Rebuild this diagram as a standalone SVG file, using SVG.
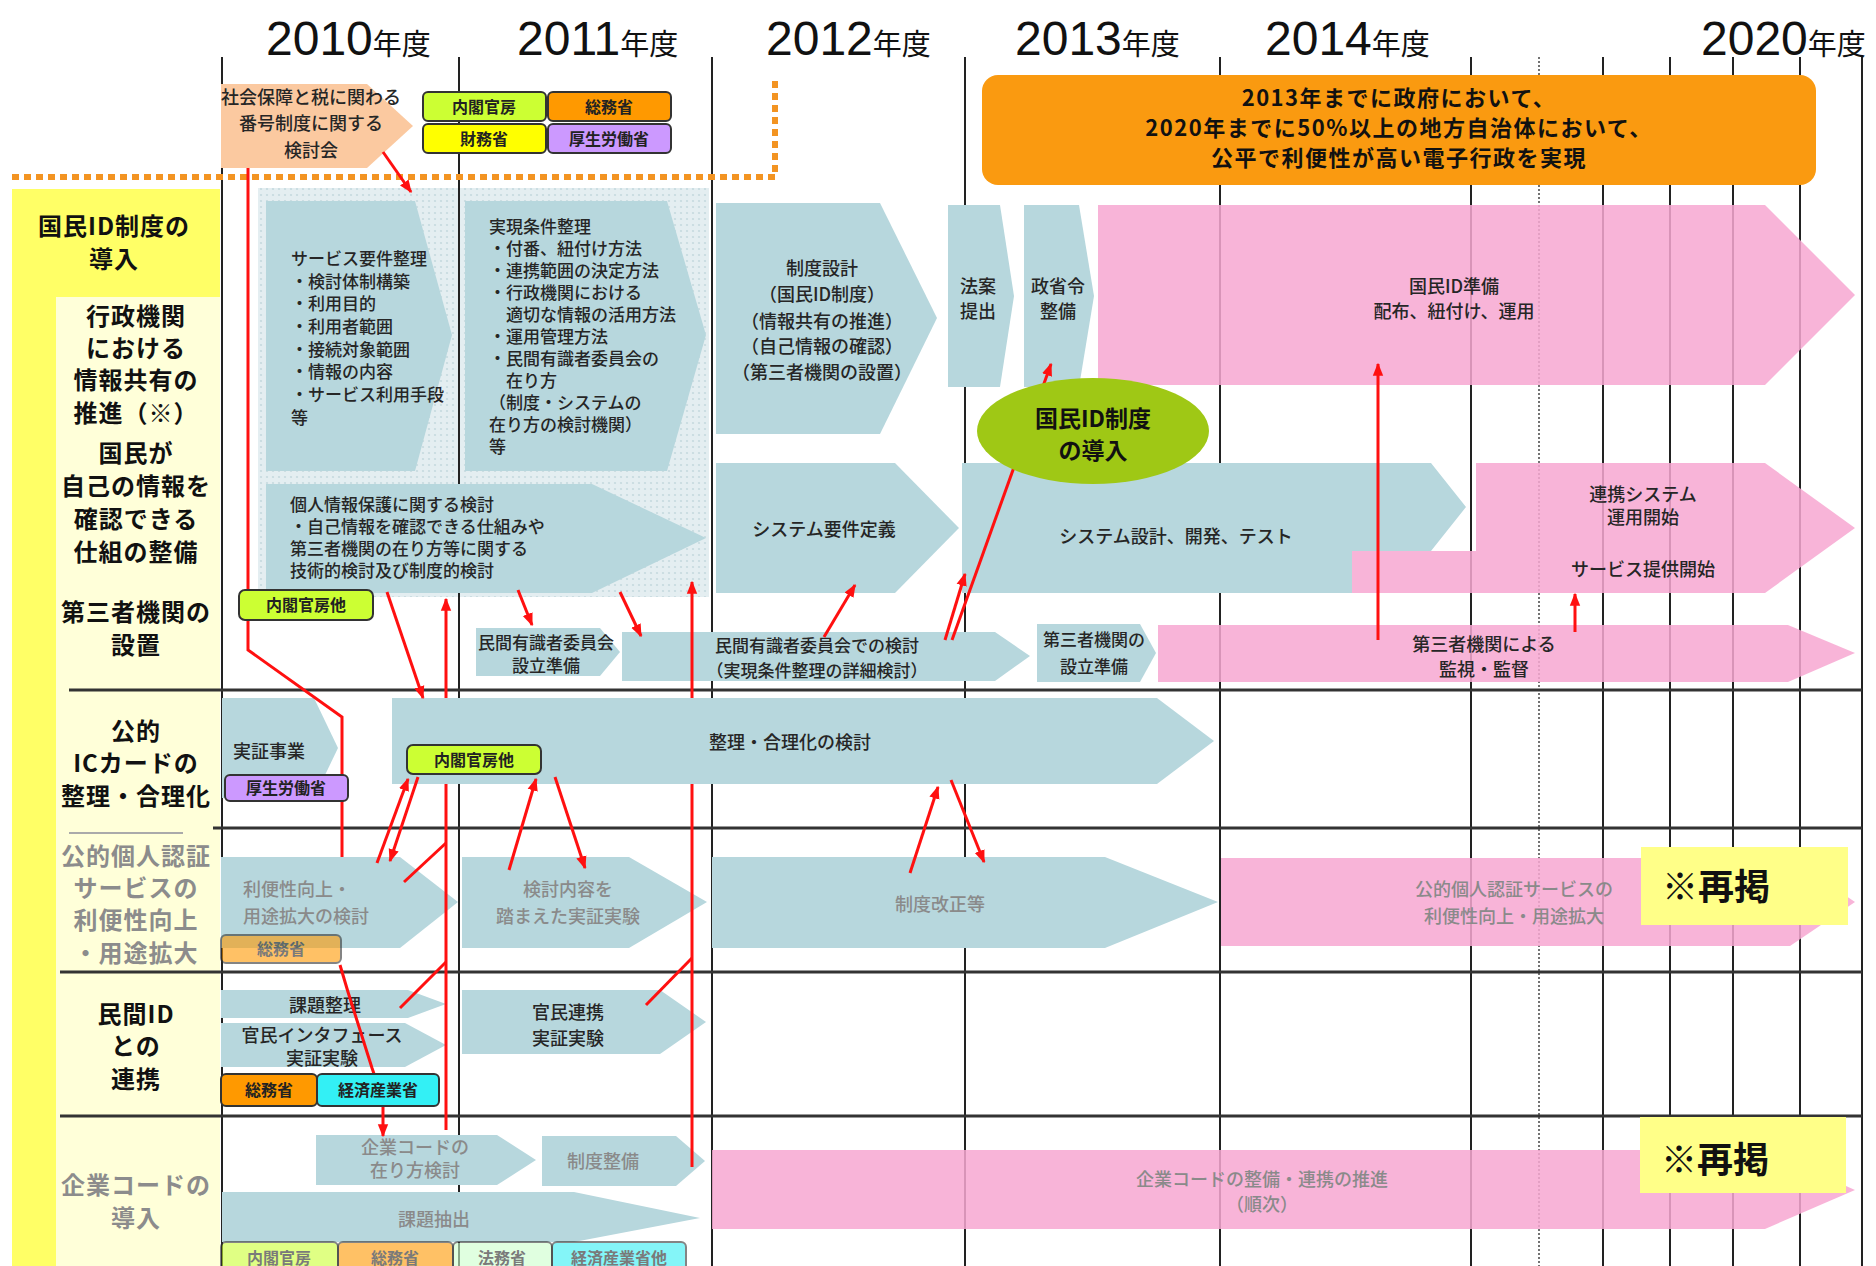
<svg xmlns="http://www.w3.org/2000/svg" width="1876" height="1266" viewBox="0 0 1876 1266">
<defs>
<pattern id="dots" width="6" height="6" patternUnits="userSpaceOnUse">
<rect width="6" height="6" fill="#e4eef1"/>
<circle cx="3" cy="3" r="1.1" fill="#c6dadf"/>
</pattern>
<marker id="ah" viewBox="0 0 10 10" refX="9" refY="5" markerWidth="13" markerHeight="13" markerUnits="userSpaceOnUse" orient="auto">
<path d="M0,1 L10,5 L0,9 z" fill="#ff1010"/>
</marker>
<style>
.tx{font-family:"Noto Sans CJK JP","Noto Sans",sans-serif;font-size:18px;font-weight:500;fill:#262626}
.s17{font-size:17px}
.c{text-anchor:middle}
.g{fill:#8a8a8a}
.lb{font-family:"Noto Sans CJK JP","Noto Sans",sans-serif;font-size:24px;font-weight:bold;fill:#111;text-anchor:middle;letter-spacing:1px}
.lbg{fill:#8c8c8c}
.yr{font-family:"Liberation Sans","Noto Sans CJK JP",sans-serif;font-size:48px;fill:#111}
.yr tspan{font-family:"Noto Sans CJK JP",sans-serif;font-size:29px}
.blue{fill:#b7d7dd}
.pink{fill:#f7a8d2;fill-opacity:.86}
.tag rect{stroke:#333;stroke-width:2}
.tag text{font-family:"Noto Sans CJK JP",sans-serif;font-size:16px;font-weight:bold;fill:#222;text-anchor:middle}
.fade{opacity:.6}
.conn path{stroke:#ff1010;stroke-width:3;fill:none}
.ar{marker-end:url(#ah)}
.vl{stroke:#222;stroke-width:2}
.hl{stroke:#333;stroke-width:3}
.bx{font-family:"Noto Sans CJK JP",sans-serif;font-weight:bold;fill:#111;text-anchor:middle}
.gl{font-size:22px;letter-spacing:1.5px}
</style>
</defs>
<rect width="1876" height="1266" fill="#fff"/>

<g id="labelcol">
<rect x="12" y="189" width="44" height="1077" fill="#ffff66"/>
<rect x="12" y="189" width="208" height="108" fill="#ffff66"/>
<rect x="56" y="297" width="164" height="969" fill="#ffffd9"/>
</g>

<rect id="dotarea" x="258" y="188" width="451" height="409" fill="url(#dots)"/>

<g id="grid">
<line class="vl" x1="222" y1="57" x2="222" y2="1266"/>
<line class="vl" x1="459" y1="57" x2="459" y2="1266"/>
<line class="vl" x1="712" y1="57" x2="712" y2="1266"/>
<line class="vl" x1="965" y1="57" x2="965" y2="1266"/>
<line class="vl" x1="1220" y1="57" x2="1220" y2="1266"/>
<line class="vl" x1="1471" y1="57" x2="1471" y2="1266"/>
<line x1="1539" y1="57" x2="1539" y2="1266" stroke="#444" stroke-width="1.5" stroke-dasharray="2 2"/>
<line class="vl" x1="1603" y1="57" x2="1603" y2="1266"/>
<line class="vl" x1="1670" y1="57" x2="1670" y2="1266"/>
<line class="vl" x1="1733" y1="57" x2="1733" y2="1266"/>
<line class="vl" x1="1800" y1="57" x2="1800" y2="1266"/>
<line class="vl" x1="1862" y1="57" x2="1862" y2="1266"/>
<line class="hl" x1="69" y1="690" x2="1862" y2="690"/>
<line class="hl" x1="213" y1="828" x2="1862" y2="828"/>
<line x1="69" y1="833" x2="183" y2="833" stroke="#aaa" stroke-width="2"/>
<line class="hl" x1="60" y1="972" x2="1862" y2="972"/>
<line class="hl" x1="60" y1="1116" x2="1862" y2="1116"/>
</g>

<path d="M12,177 H775 V78" fill="none" stroke="#f39422" stroke-width="6" stroke-dasharray="7 5"/>

<g id="years">
<text class="yr" x="266" y="55">2010<tspan>年度</tspan></text>
<text class="yr" x="517" y="55">2011<tspan>年度</tspan></text>
<text class="yr" x="766" y="55">2012<tspan>年度</tspan></text>
<text class="yr" x="1015" y="55">2013<tspan>年度</tspan></text>
<text class="yr" x="1265" y="55">2014<tspan>年度</tspan></text>
<text class="yr" x="1701" y="55">2020<tspan>年度</tspan></text>
</g>

<g id="labels">
<text class="lb" x="114" y="235">国民ID制度の</text>
<text class="lb" x="114" y="268">導入</text>
<text class="lb" x="136" y="325">行政機関</text>
<text class="lb" x="136" y="357">における</text>
<text class="lb" x="136" y="389">情報共有の</text>
<text class="lb" x="136" y="422">推進（※）</text>
<text class="lb" x="136" y="462">国民が</text>
<text class="lb" x="136" y="495">自己の情報を</text>
<text class="lb" x="136" y="528">確認できる</text>
<text class="lb" x="136" y="561">仕組の整備</text>
<text class="lb" x="136" y="621">第三者機関の</text>
<text class="lb" x="136" y="654">設置</text>
<text class="lb" x="136" y="740">公的</text>
<text class="lb" x="136" y="772">ICカードの</text>
<text class="lb" x="136" y="805">整理・合理化</text>
<text class="lb lbg" x="136" y="865">公的個人認証</text>
<text class="lb lbg" x="136" y="897">サービスの</text>
<text class="lb lbg" x="136" y="929">利便性向上</text>
<text class="lb lbg" x="136" y="962">・用途拡大</text>
<text class="lb" x="136" y="1023">民間ID</text>
<text class="lb" x="136" y="1055">との</text>
<text class="lb" x="136" y="1088">連携</text>
<text class="lb lbg" x="136" y="1194">企業コードの</text>
<text class="lb lbg" x="136" y="1227">導入</text>
</g>

<g id="goal">
<rect x="982" y="75" width="834" height="110" rx="16" fill="#fa9a10"/>
<text class="bx gl" x="1399" y="106">2013年までに政府において、</text>
<text class="bx gl" x="1399" y="136">2020年までに50%以上の地方自治体において、</text>
<text class="bx gl" x="1399" y="166">公平で利便性が高い電子行政を実現</text>
</g>

<g id="kentoukai">
<polygon points="221,84 367,84 413,126 367,168 221,168" fill="#fbc9a0"/>
<text class="tx c" font-size="19" x="311" y="104">社会保障と税に関わる</text>
<text class="tx c" font-size="19" x="311" y="130">番号制度に関する</text>
<text class="tx c" font-size="19" x="311" y="157">検討会</text>
</g>

<g id="service">
<polygon class="blue" points="266,201 415,201 452,335 415,471 266,471"/>
<text class="tx s17" x="291"><tspan x="291" y="265">サービス要件整理</tspan><tspan x="291" y="288">・検討体制構築</tspan><tspan x="291" y="310">・利用目的</tspan><tspan x="291" y="333">・利用者範囲</tspan><tspan x="291" y="356">・接続対象範囲</tspan><tspan x="291" y="378">・情報の内容</tspan><tspan x="291" y="401">・サービス利用手段</tspan><tspan x="291" y="424">等</tspan></text>
</g>

<g id="jitsugen">
<polygon class="blue" points="465,201 667,201 706,335 667,471 465,471"/>
<text class="tx s17" x="489"><tspan x="489" y="233">実現条件整理</tspan><tspan x="489" y="255">・付番、紐付け方法</tspan><tspan x="489" y="277">・連携範囲の決定方法</tspan><tspan x="489" y="299">・行政機関における</tspan><tspan x="489" y="321">　適切な情報の活用方法</tspan><tspan x="489" y="343">・運用管理方法</tspan><tspan x="489" y="365">・民間有識者委員会の</tspan><tspan x="489" y="387">　在り方</tspan><tspan x="489" y="409">（制度・システムの</tspan><tspan x="489" y="431">在り方の検討機関）</tspan><tspan x="489" y="453">等</tspan></text>
</g>

<g id="kojin">
<polygon class="blue" points="266,484 592,484 706,538 592,593 266,593"/>
<text class="tx s17" x="290"><tspan x="290" y="511">個人情報保護に関する検討</tspan><tspan x="290" y="533">・自己情報を確認できる仕組みや</tspan><tspan x="290" y="555">第三者機関の在り方等に関する</tspan><tspan x="290" y="577">技術的検討及び制度的検討</tspan></text>
</g>

<g id="seido">
<polygon class="blue" points="716,203 880,203 937,318 880,434 716,434"/>
<text class="tx c" x="822"><tspan x="822" y="275">制度設計</tspan><tspan x="822" y="301">（国民ID制度）</tspan><tspan x="822" y="328">（情報共有の推進）</tspan><tspan x="822" y="353">（自己情報の確認）</tspan><tspan x="822" y="379">（第三者機関の設置）</tspan></text>
</g>

<g id="houan">
<polygon class="blue" points="948,205 1000,205 1014,296 1000,387 948,387"/>
<text class="tx c" x="978"><tspan x="978" y="293">法案</tspan><tspan x="978" y="318">提出</tspan></text>
</g>

<g id="seishourei">
<polygon class="blue" points="1024,205 1079,205 1094,296 1079,387 1024,387"/>
<text class="tx c" x="1058"><tspan x="1058" y="293">政省令</tspan><tspan x="1058" y="318">整備</tspan></text>
</g>

<g id="youken">
<polygon class="blue" points="716,463 895,463 959,528 895,593 716,593"/>
<text class="tx c" x="824" y="536">システム要件定義</text>
</g>

<g id="sekkei">
<polygon class="blue" points="962,463 1431,463 1466,507 1431,551 1352,551 1352,593 962,593"/>
<text class="tx c" x="1176" y="543">システム設計、開発、テスト</text>
</g>

<g id="iinkai-junbi">
<polygon class="blue" points="476,628 600,628 620,652 600,676 476,676"/>
<text class="tx c s17" x="546"><tspan x="546" y="649">民間有識者委員会</tspan><tspan x="546" y="672">設立準備</tspan></text>
</g>

<g id="iinkai-kentou">
<polygon class="blue" points="622,632 995,632 1030,656 995,681 622,681"/>
<text class="tx c s17" x="817"><tspan x="817" y="652">民間有識者委員会での検討</tspan><tspan x="817" y="677">（実現条件整理の詳細検討）</tspan></text>
</g>

<g id="daisan-junbi">
<polygon class="blue" points="1037,624 1140,624 1156,653 1140,682 1037,682"/>
<text class="tx c s17" x="1094"><tspan x="1094" y="646">第三者機関の</tspan><tspan x="1094" y="673">設立準備</tspan></text>
</g>

<g id="jisshou">
<polygon class="blue" points="222,698 314,698 338,748 314,798 222,798"/>
<text class="tx" x="233" y="758">実証事業</text>
</g>

<g id="gourika">
<polygon class="blue" points="392,698 1157,698 1214,741 1157,784 392,784"/>
<text class="tx c" font-size="19" x="790" y="749">整理・合理化の検討</text>
</g>

<g id="riben">
<polygon class="blue" points="221,857 400,857 458,902 400,948 221,948"/>
<text class="tx g" x="243"><tspan x="243" y="896">利便性向上・</tspan><tspan x="243" y="923">用途拡大の検討</tspan></text>
</g>

<g id="kentounaiyou">
<polygon class="blue" points="462,857 629,857 707,902 629,948 462,948"/>
<text class="tx c g" x="568"><tspan x="568" y="896">検討内容を</tspan><tspan x="568" y="923">踏まえた実証実験</tspan></text>
</g>

<g id="kaisei">
<polygon class="blue" points="712,857 1105,857 1218,902 1105,948 712,948"/>
<text class="tx c g" x="940" y="911">制度改正等</text>
</g>

<g id="kadai">
<polygon class="blue" points="221,990 408,990 446,1004 408,1018 221,1018"/>
<text class="tx c" x="325" y="1012">課題整理</text>
</g>

<g id="interface">
<polygon class="blue" points="221,1023 405,1023 446,1045 405,1067 221,1067"/>
<text class="tx c" x="322"><tspan x="322" y="1042">官民インタフェース</tspan><tspan x="322" y="1065">実証実験</tspan></text>
</g>

<g id="renkei">
<polygon class="blue" points="462,990 660,990 706,1022 660,1054 462,1054"/>
<text class="tx c" x="568"><tspan x="568" y="1019">官民連携</tspan><tspan x="568" y="1045">実証実験</tspan></text>
</g>

<g id="code-arikata">
<polygon class="blue" points="316,1135 497,1135 536,1160 497,1185 316,1185"/>
<text class="tx c g" x="415"><tspan x="415" y="1154">企業コードの</tspan><tspan x="415" y="1177">在り方検討</tspan></text>
</g>

<g id="code-seibi">
<polygon class="blue" points="542,1136 676,1136 705,1161 676,1186 542,1186"/>
<text class="tx c g" x="603" y="1168">制度整備</text>
</g>

<g id="kadai-chuushutsu">
<polygon class="blue" points="222,1192 574,1192 700,1218 574,1242 222,1242"/>
<text class="tx c g" x="434" y="1226">課題抽出</text>
</g>

<g id="id-junbi">
<polygon class="pink" points="1098,205 1765,205 1855,295 1765,385 1098,385"/>
<text class="tx c" x="1454"><tspan x="1454" y="293">国民ID準備</tspan><tspan x="1454" y="318">配布、紐付け、運用</tspan></text>
</g>

<g id="unyou">
<polygon class="pink" points="1476,463 1765,463 1855,528 1765,593 1352,593 1352,551 1476,551"/>
<text class="tx c" x="1643"><tspan x="1643" y="501">連携システム</tspan><tspan x="1643" y="524">運用開始</tspan><tspan x="1643" y="576">サービス提供開始</tspan></text>
</g>

<g id="kanshi">
<polygon class="pink" points="1158,625 1788,625 1855,653 1788,682 1158,682"/>
<text class="tx c" x="1484"><tspan x="1484" y="651">第三者機関による</tspan><tspan x="1484" y="676">監視・監督</tspan></text>
</g>

<g id="kouteki-kakudai">
<polygon class="pink" points="1221,858 1790,858 1855,902 1790,946 1221,946"/>
<text class="tx c g" x="1514"><tspan x="1514" y="896">公的個人認証サービスの</tspan><tspan x="1514" y="923">利便性向上・用途拡大</tspan></text>
</g>

<g id="code-suishin">
<polygon class="pink" points="712,1150 1765,1150 1855,1190 1765,1229 712,1229"/>
<text class="tx c g" x="1262"><tspan x="1262" y="1186">企業コードの整備・連携の推進</tspan><tspan x="1262" y="1211">（順次）</tspan></text>
</g>

<g id="connectors" class="conn">
<path class="ar" d="M383,152 L411,192"/>
<path d="M248,168 L248,650 L342,717 L342,857"/>
<path class="ar" d="M340,965 L348,992 L372,1068 L383,1100 L383,1136"/>
<path d="M446,1130 L446,784"/>
<path class="ar" d="M446,698 L446,599"/>
<path d="M404,882 L446,843"/>
<path d="M400,1008 L446,962"/>
<path d="M692,1167 L692,784"/>
<path class="ar" d="M692,698 L692,582"/>
<path d="M646,1005 L692,958"/>
<path class="ar" d="M387,592 L423,698"/>
<path class="ar" d="M518,590 L532,625"/>
<path class="ar" d="M620,592 L641,636"/>
<path class="ar" d="M824,637 L855,585"/>
<path class="ar" d="M945,640 L965,574"/>
<path class="ar" d="M952,640 L1051,364"/>
<path class="ar" d="M1378,640 L1378,364"/>
<path class="ar" d="M1575,632 L1575,594"/>
<path class="ar" d="M377,863 L408,779"/>
<path class="ar" d="M418,777 L390,861"/>
<path class="ar" d="M509,870 L536,779"/>
<path class="ar" d="M555,777 L585,868"/>
<path class="ar" d="M910,873 L938,787"/>
<path class="ar" d="M951,780 L984,862"/>
</g>

<g id="id-dounyuu">
<ellipse cx="1093" cy="431" rx="116" ry="53" fill="#9fc815"/>
<text class="bx" font-size="23" x="1093" y="427">国民ID制度</text>
<text class="bx" font-size="23" x="1093" y="459">の導入</text>
</g>

<g id="saikei1">
<rect x="1641" y="847" width="207" height="78" fill="#ffff88"/>
<text class="bx" font-size="36" x="1716" y="900">※再掲</text>
</g>
<g id="saikei2">
<rect x="1640" y="1117" width="206" height="76" fill="#ffff88"/>
<text class="bx" font-size="36" x="1715" y="1173">※再掲</text>
</g>

<g id="tag-top-naikaku" class="tag"><rect x="423" y="92" width="123" height="29" rx="5" fill="#ccff33"/><text x="484" y="113">内閣官房</text></g>
<g id="tag-top-soumu" class="tag"><rect x="548" y="92" width="123" height="29" rx="5" fill="#ff9900"/><text x="609" y="113">総務省</text></g>
<g id="tag-top-zaimu" class="tag"><rect x="423" y="124" width="123" height="29" rx="5" fill="#ffff00"/><text x="484" y="145">財務省</text></g>
<g id="tag-top-kousei" class="tag"><rect x="548" y="124" width="123" height="29" rx="5" fill="#cc99ff"/><text x="609" y="145">厚生労働省</text></g>
<g id="tag-naikaku-hoka1" class="tag"><rect x="239" y="590" width="134" height="30" rx="6" fill="#ccff33"/><text x="306" y="611">内閣官房他</text></g>
<g id="tag-kousei2" class="tag"><rect x="225" y="775" width="123" height="26" rx="5" fill="#cc99ff"/><text x="286" y="794">厚生労働省</text></g>
<g id="tag-naikaku-hoka2" class="tag"><rect x="407" y="745" width="134" height="29" rx="6" fill="#ccff33"/><text x="474" y="766">内閣官房他</text></g>
<g id="tag-soumu-kouteki" class="tag fade"><rect x="221" y="935" width="120" height="28" rx="5" fill="#ff9900"/><text x="281" y="955">総務省</text></g>
<g id="tag-soumu-minkan" class="tag"><rect x="221" y="1074" width="96" height="32" rx="5" fill="#ff9900"/><text x="269" y="1096">総務省</text></g>
<g id="tag-keisan-minkan" class="tag"><rect x="317" y="1074" width="122" height="32" rx="5" fill="#33f0f5"/><text x="378" y="1096">経済産業省</text></g>
<g id="tag-b-naikaku" class="tag fade"><rect x="221" y="1242" width="117" height="32" rx="5" fill="#ccff33"/><text x="279" y="1264">内閣官房</text></g>
<g id="tag-b-soumu" class="tag fade"><rect x="338" y="1242" width="115" height="32" rx="5" fill="#ff9900"/><text x="395" y="1264">総務省</text></g>
<g id="tag-b-houmu" class="tag fade"><rect x="453" y="1242" width="99" height="32" rx="5" fill="#ccffcc"/><text x="502" y="1264">法務省</text></g>
<g id="tag-b-keisan" class="tag fade"><rect x="552" y="1242" width="134" height="32" rx="5" fill="#33f0f5"/><text x="619" y="1264">経済産業省他</text></g>
</svg>
